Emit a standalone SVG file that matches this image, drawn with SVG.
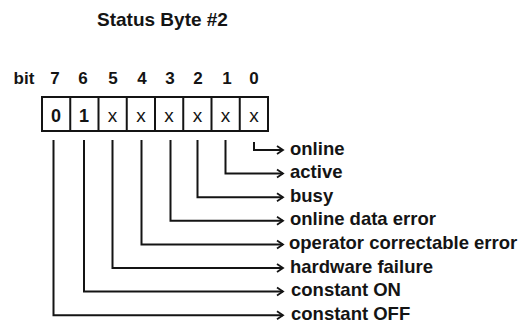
<svg xmlns="http://www.w3.org/2000/svg" width="525" height="326" viewBox="0 0 525 326">
<style>
.t{font-family:"Liberation Sans",Arial,sans-serif;fill:#141414}
.title{font-size:19px;font-weight:bold}
.hdr{font-size:17px;font-weight:bold;text-anchor:middle}
.val{font-size:18px;font-weight:bold;text-anchor:middle}
.x{font-size:19px;text-anchor:middle}
.lbl{font-size:18.5px;font-weight:bold}
.cell{fill:#fff;stroke:#141414;stroke-width:2}
.wire{fill:none;stroke:#141414;stroke-width:2}
</style>
<defs>
<marker id="arr" markerUnits="userSpaceOnUse" markerWidth="10" markerHeight="10" refX="7" refY="5" orient="auto" overflow="visible">
<path d="M1,1 L7,5 L1,9" fill="none" stroke="#141414" stroke-width="1.8"/>
</marker>
</defs>
<rect width="525" height="326" fill="#fff"/>
<g id="title"><text class="t title" x="97" y="26">Status Byte #2</text></g>
<g id="bit-header">
<text class="t hdr" x="24" y="83.5">bit</text>
<text class="t hdr" x="55" y="83.5">7</text>
<text class="t hdr" x="83" y="83.5">6</text>
<text class="t hdr" x="113" y="83.5">5</text>
<text class="t hdr" x="142" y="83.5">4</text>
<text class="t hdr" x="170" y="83.5">3</text>
<text class="t hdr" x="198" y="83.5">2</text>
<text class="t hdr" x="227" y="83.5">1</text>
<text class="t hdr" x="254" y="83.5">0</text>
</g>
<g id="register">
<rect class="cell" x="42" y="97" width="226" height="34"/>
<path class="wire" d="M70.25,97V131M98.5,97V131M126.75,97V131M155,97V131M183.25,97V131M211.5,97V131M239.75,97V131"/>
<text class="t val" x="56" y="122">0</text>
<text class="t val" x="84" y="122">1</text>
<text class="t x" x="112.6" y="121.5">x</text>
<text class="t x" x="140.9" y="121.5">x</text>
<text class="t x" x="169.1" y="121.5">x</text>
<text class="t x" x="197.4" y="121.5">x</text>
<text class="t x" x="225.6" y="121.5">x</text>
<text class="t x" x="253.9" y="121.5">x</text>
</g>
<g id="connectors">
<path class="wire" marker-end="url(#arr)" d="M254,142V150H283"/>
<path class="wire" marker-end="url(#arr)" d="M225.5,140V173.6H283"/>
<path class="wire" marker-end="url(#arr)" d="M197.5,140V197.2H283"/>
<path class="wire" marker-end="url(#arr)" d="M170.5,140V220.8H283"/>
<path class="wire" marker-end="url(#arr)" d="M141.5,140V244.4H283"/>
<path class="wire" marker-end="url(#arr)" d="M112.5,140V268H283"/>
<path class="wire" marker-end="url(#arr)" d="M84,140V291.6H283"/>
<path class="wire" marker-end="url(#arr)" d="M53.5,140V315.2H283"/>
</g>
<g id="label-online"><text class="t lbl" x="290" y="154.5">online</text></g>
<g id="label-active"><text class="t lbl" x="290" y="178">active</text></g>
<g id="label-busy"><text class="t lbl" x="290" y="201.5">busy</text></g>
<g id="label-online-data-error"><text class="t lbl" x="290" y="225.3">online data error</text></g>
<g id="label-operator-correctable-error"><text class="t lbl" x="289" y="249">operator correctable error</text></g>
<g id="label-hardware-failure"><text class="t lbl" x="290" y="272.5">hardware failure</text></g>
<g id="label-constant-on"><text class="t lbl" x="291" y="296">constant ON</text></g>
<g id="label-constant-off"><text class="t lbl" x="291" y="319.5">constant OFF</text></g>
</svg>
